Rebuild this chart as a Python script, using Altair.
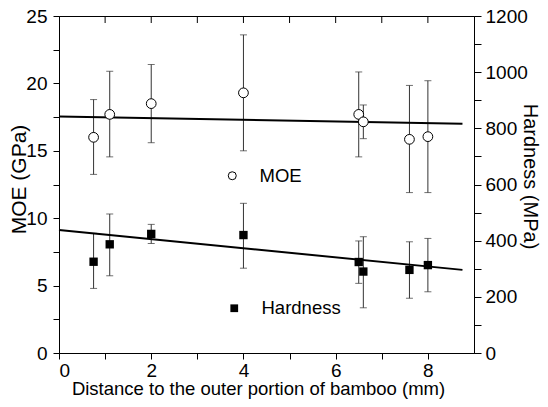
import altair as alt
import pandas as pd

# ---- data ----
dist = [0.75, 1.1, 2.0, 4.0, 6.5, 6.6, 7.6, 8.0]
moe = [16.0, 17.7, 18.5, 19.3, 17.7, 17.15, 15.85, 16.05]
moe_hi = [18.8, 20.9, 21.4, 23.6, 20.85, 18.4, 19.85, 20.2]
moe_lo = [13.25, 14.55, 15.6, 15.0, 14.55, 15.9, 11.9, 11.9]
hard = [325, 387, 424, 420, 324, 290, 296, 313]
hard_hi = [426, 495, 458, 533, 399, 414, 396, 408]
hard_lo = [230, 275, 390, 302, 248, 161, 195, 218]

fit_x = [0.0, 8.75]
moe_fit = [17.55, 17.0]
hard_fit = [438, 296]

top_ticks = [1, 2, 3, 4, 5, 6, 7, 8]

df = pd.DataFrame({"x": dist, "moe": moe, "moe_hi": moe_hi, "moe_lo": moe_lo,
                   "hard": hard, "hard_hi": hard_hi, "hard_lo": hard_lo})
fit = pd.DataFrame({"x": fit_x, "moe": moe_fit, "hard": hard_fit})
top_df = pd.DataFrame({"t": top_ticks})

FONT = "Liberation Sans"
TICKF = 19
xs = alt.Scale(domain=[0, 9], nice=False, zero=False)
yl = alt.Scale(domain=[0, 25], nice=False)
yr = alt.Scale(domain=[0, 1200], nice=False)

common = dict(grid=False, labelFont=FONT, titleFont=FONT, titleFontWeight="normal",
              domainColor="black", tickColor="black", labelColor="black",
              titleColor="black", labelFontSize=TICKF)

x_axis = alt.Axis(values=list(range(0, 9)),
                  labelExpr="datum.value % 2 == 0 ? datum.label : ''",
                  title="Distance to the outer portion of bamboo (mm)",
                  tickSize=6, labelPadding=2, titleFontSize=18.5,
                  titleX=199, titleY=41.5, titleAnchor="start", titleAlign="center",
                  titleBaseline="alphabetic", **common)

left_axis = alt.Axis(orient="left", values=[i * 2.5 for i in range(11)],
                     labelExpr="datum.value % 5 == 0 ? datum.label : ''",
                     title="MOE (GPa)", tickSize=6, labelPadding=6, titleFontSize=21,
                     titleX=-40, titleY=163, titleAngle=270, titleAlign="center",
                     titleBaseline="middle", **common)
right_axis = alt.Axis(orient="right", values=list(range(0, 1300, 100)),
                      labelExpr="datum.value % 200 == 0 ? format(datum.value, 'd') : ''",
                      title="Hardness (MPa)", tickSize=7, labelPadding=4, titleFontSize=20,
                      titleX=55, titleY=160, titleAngle=90, titleAlign="center",
                      titleBaseline="middle", **common)

X = alt.X("x:Q", scale=xs, axis=x_axis)
base = alt.Chart(df)
ERR = "#333333"

# ---- MOE group (left axis) ----
moe_err = base.mark_rule(color=ERR, strokeWidth=1).encode(
    x=X, y=alt.Y("moe_lo:Q", scale=yl, axis=left_axis), y2="moe_hi:Q")
moe_cap_hi = base.mark_tick(orient="horizontal", size=7, thickness=1, color=ERR).encode(
    x=X, y=alt.Y("moe_hi:Q", scale=yl, axis=left_axis))
moe_cap_lo = base.mark_tick(orient="horizontal", size=7, thickness=1, color=ERR).encode(
    x=X, y=alt.Y("moe_lo:Q", scale=yl, axis=left_axis))
moe_pts = base.transform_calculate(s="'MOE'").mark_point(
    shape="circle", filled=False, fill="white", fillOpacity=1, size=95, strokeWidth=1,
    opacity=1).encode(
    x=X, y=alt.Y("moe:Q", scale=yl, axis=left_axis),
    color=alt.Color("s:N", scale=alt.Scale(domain=["MOE"], range=["black"]),
                    legend=alt.Legend(orient="none", legendX=164, legendY=150.5, title=None,
                                      padding=0, symbolType="circle", symbolSize=64,
                                      symbolFillColor="white", symbolStrokeWidth=1,
                                      labelOffset=18, labelFontSize=18.5, labelFont=FONT,
                                      labelColor="black")))
moe_line = alt.Chart(fit).mark_line(color="black", strokeWidth=2).encode(
    x=X, y=alt.Y("moe:Q", scale=yl, axis=left_axis))
top_rules = alt.Chart(top_df).mark_rule(color="black", strokeWidth=1).encode(
    x=alt.X("t:Q", scale=xs, axis=x_axis), y=alt.value(0), y2=alt.value(7))
moe_group = alt.layer(moe_err, moe_cap_hi, moe_cap_lo, moe_line, moe_pts, top_rules)

# ---- Hardness group (right axis) ----
hard_err = base.mark_rule(color=ERR, strokeWidth=1).encode(
    x=X, y=alt.Y("hard_lo:Q", scale=yr, axis=right_axis), y2="hard_hi:Q")
hard_cap_hi = base.mark_tick(orient="horizontal", size=7, thickness=1, color=ERR).encode(
    x=X, y=alt.Y("hard_hi:Q", scale=yr, axis=right_axis))
hard_cap_lo = base.mark_tick(orient="horizontal", size=7, thickness=1, color=ERR).encode(
    x=X, y=alt.Y("hard_lo:Q", scale=yr, axis=right_axis))
hard_pts = base.transform_calculate(s="'Hardness'").mark_point(
    shape="square", filled=True, size=70, opacity=1).encode(
    x=X, y=alt.Y("hard:Q", scale=yr, axis=right_axis),
    color=alt.Color("s:N", scale=alt.Scale(domain=["Hardness"], range=["black"]),
                    legend=alt.Legend(orient="none", legendX=166, legendY=283, title=None,
                                      padding=0, symbolType="square", symbolSize=60,
                                      labelOffset=18, labelFontSize=18.5, labelFont=FONT,
                                      labelColor="black")))
hard_line = alt.Chart(fit).mark_line(color="black", strokeWidth=2).encode(
    x=X, y=alt.Y("hard:Q", scale=yr, axis=right_axis))
hard_group = alt.layer(hard_err, hard_cap_hi, hard_cap_lo, hard_line, hard_pts)

chart = alt.layer(moe_group, hard_group).resolve_scale(
    y="independent", color="independent"
).resolve_legend(color="independent").properties(
    width=415, height=337,
    autosize=alt.AutoSizeParams(type="none"),
    padding={"left": 51, "top": 8, "right": 66, "bottom": 46},
    background="white",
).configure_view(stroke="black", strokeWidth=1)

chart.save("out.html", embed_options={"renderer": "svg", "actions": False})
